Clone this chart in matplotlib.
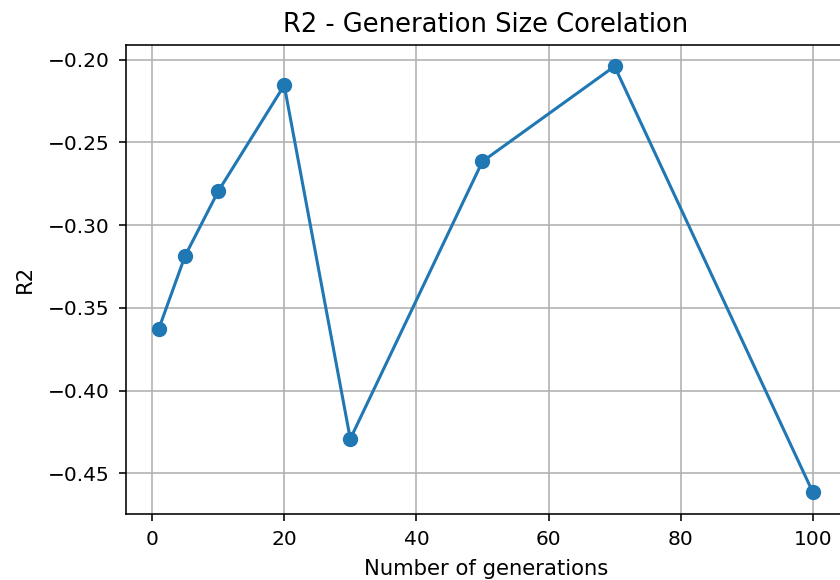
import matplotlib
matplotlib.use("Agg")
import matplotlib.pyplot as plt

generations = [1, 5, 10, 20, 30, 50, 70, 100]
r2_values = [-0.3628, -0.3185, -0.2796, -0.2155, -0.4292, -0.2615, -0.2040, -0.4614]

title = "R2 - Generation Size Corelation"
xlabel = "Number of generations"
ylabel = "R2"

fig = plt.figure(figsize=(8.4, 5.8), dpi=100)
ax = fig.add_axes([126 / 840, (580 - 513.5) / 580, 719.5 / 840, 468.5 / 580])

ax.plot(generations, r2_values, marker="o", color="#1f77b4", linewidth=2.2, markersize=10)
ax.grid(True, color="#b0b0b0", linewidth=1.15)
ax.set_axisbelow(True)

ax.set_title(title, fontsize=18.5, pad=9)
ax.set_xlabel(xlabel, fontsize=15.2, labelpad=7)
ax.set_ylabel(ylabel, fontsize=15.2, labelpad=9)
ax.tick_params(axis="both", labelsize=14.5, length=5, width=1.15, pad=7)
for s in ax.spines.values():
    s.set_linewidth(1.15)

ax.set_xticks([0, 20, 40, 60, 80, 100])
ax.set_yticks([-0.45, -0.40, -0.35, -0.30, -0.25, -0.20])
ax.set_yticklabels(["\u22120.45", "\u22120.40", "\u22120.35", "\u22120.30", "\u22120.25", "\u22120.20"])

fig.savefig("out.png", dpi=100)
